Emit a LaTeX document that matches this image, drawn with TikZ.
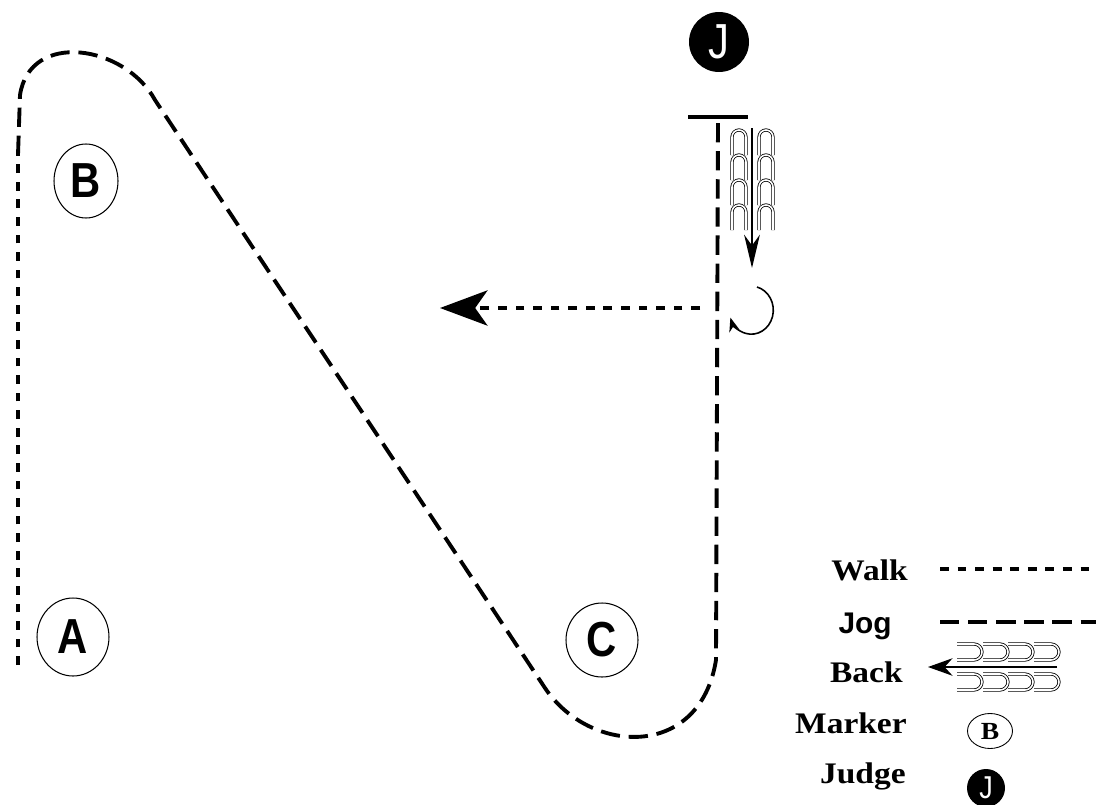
\documentclass[tikz,border=0pt]{standalone}
\usepackage{fontspec}
\usetikzlibrary{arrows.meta, shapes.geometric}
\newfontfamily\letterfont{Liberation Sans}[FakeStretch=0.85]
\newfontfamily\legendfont{Liberation Serif}[FakeStretch=1.12]
\newfontfamily\jogfont{Liberation Sans}

\tikzset{
  walk/.style={line width=2.4pt, dash pattern=on 5pt off 5pt},
  jog/.style={line width=2.2pt, dash pattern=on 11pt off 5pt},
  marker/.style={draw, ellipse, line width=0.6pt, inner sep=0pt, font=\letterfont\bfseries\fontsize{28}{28}\selectfont},
  judge/.style={circle, fill=black, text=white, inner sep=0pt, font=\letterfont\fontsize{28}{28}\selectfont},
  hoof/.style={line width=0.45pt, double distance=0.9pt},
  legendtext/.style={anchor=base east, inner sep=0pt, font=\legendfont\bfseries\fontsize{17}{18}\selectfont}
}

\begin{document}
\begin{tikzpicture}[x=0.02cm, y=0.02cm]
    \useasboundingbox (0,0) rectangle (1096,-805);

    % markers and judge
    \node[marker, minimum width=1.28cm, minimum height=1.48cm] (markB) at (86,-181) {B};
    \node[marker, minimum width=1.44cm, minimum height=1.56cm] (markA) at (73,-637) {A};
    \node[marker, minimum width=1.44cm, minimum height=1.48cm] (markC) at (602,-640) {C};
    \node[judge, minimum size=1.2cm] (judge) at (719,-42) {J};

    % pattern
    \coordinate (start) at (18,-665);
    \coordinate (leftup) at (18,-155);
    \coordinate (bend) at (20,-95);
    \coordinate (diagtop) at (155,-100);
    \coordinate (diagbot) at (545,-688);
    \coordinate (rightlow) at (716,-660);
    \coordinate (stop) at (718,-120);
    \draw[walk] (start) -- (leftup);
    \draw[jog] (leftup) -- (bend) .. controls (30,-30) and (125,-45) .. (diagtop) -- (diagbot)
        .. controls (590,-755) and (700,-760) .. (rightlow) -- (stop);
    \draw[line width=2pt] (688,-117) -- (748,-117);

    % back up
    \coordinate (backtop) at (752,-128);
    \coordinate (backbot) at (752,-268);
    \foreach \hx in {739,766}
        \foreach \hy in {130,155,180,205}
            \draw[hoof] (\hx-7,-\hy-25) -- (\hx-7,-\hy-7) arc[start angle=180, end angle=0, radius=7] -- (\hx+7,-\hy-25);
    \draw[line width=0.8pt, -{Stealth[length=19pt, width=9pt]}] (backtop) -- (backbot);

    % turn and walk off
    \draw[line width=0.9pt, -{Stealth[length=8pt, width=6pt]}] (757,-287) arc[start angle=75, end angle=-162, x radius=22, y radius=24];
    \coordinate (turn) at (700,-308);
    \coordinate (walkend) at (440,-308);
    \draw[walk, -{Stealth[length=27pt, width=20pt, inset=7pt]}] (turn) -- (walkend);

    % legend
    \node[legendtext] (walktxt) at (908,-580) {Walk};
    \node[anchor=base east, inner sep=0pt, font=\jogfont\bfseries\fontsize{17}{17}\selectfont] (jogtxt) at (892,-633) {Jog};
    \node[legendtext] (backtxt) at (903,-682) {Back};
    \node[legendtext] (markertxt) at (907,-733) {Marker};
    \node[legendtext] (judgetxt) at (906,-783) {Judge};

    \coordinate (walkA) at (940,-569);
    \coordinate (walkB) at (1096,-569);
    \draw[walk, line width=2pt] (walkA) -- (walkB);
    \coordinate (jogA) at (940,-622);
    \coordinate (jogB) at (1096,-622);
    \draw[jog, line width=2pt] (jogA) -- (jogB);

    \foreach \hx in {957,983,1008,1034} {
        \draw[hoof] (\hx,-644) -- (\hx+17,-644) arc[start angle=90, end angle=-90, radius=8] -- (\hx,-660);
        \draw[hoof] (\hx,-674) -- (\hx+17,-674) arc[start angle=90, end angle=-90, radius=8] -- (\hx,-690);
    }
    \coordinate (legbackA) at (1057,-667);
    \coordinate (legbackB) at (928,-667);
    \draw[line width=0.8pt, -{Stealth[length=14pt, width=10pt]}] (legbackA) -- (legbackB);

    \node[draw, ellipse, line width=0.5pt, inner sep=0pt, minimum width=0.9cm, minimum height=0.7cm,
          font=\legendfont\bfseries\fontsize{14}{14}\selectfont] (legmark) at (990,-731) {B};
    \node[judge, minimum size=0.76cm, font=\letterfont\fontsize{18}{18}\selectfont] (legjudge) at (986,-788) {J};
\end{tikzpicture}
\end{document}
